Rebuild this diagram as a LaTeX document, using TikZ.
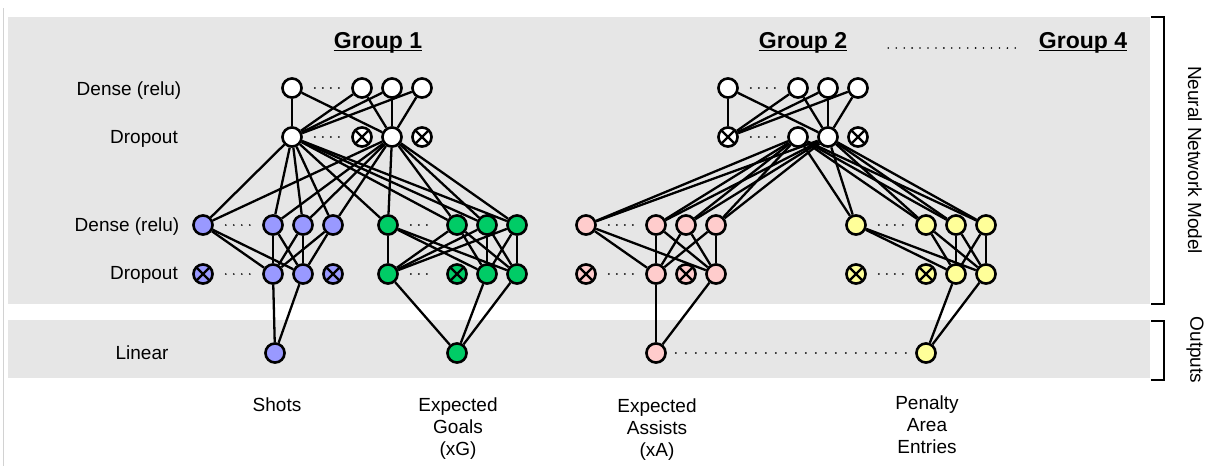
\documentclass[tikz,border=0pt]{standalone}
\usepackage{fontspec}
\setmainfont{Liberation Sans}
\usetikzlibrary{positioning,backgrounds}
\definecolor{panelgray}{HTML}{E6E6E6}
\definecolor{shotsblue}{HTML}{9999FF}
\definecolor{xggreen}{HTML}{00CC66}
\definecolor{xapink}{HTML}{FFCCCC}
\definecolor{paeyellow}{HTML}{FFFF99}
\tikzset{%
  neuron/.style={
    circle,
    draw,
    fill=white,
    line width=2.6pt,
    minimum size=19.1pt,
    inner sep=0pt
  },
  dropped/.style={
    neuron,
    path picture={
      \draw[line width=2.3pt] (path picture bounding box.south west) -- (path picture bounding box.north east)
        (path picture bounding box.north west) -- (path picture bounding box.south east);
    }
  },
  gapdots/.style={
    line width=1.8pt,
    line cap=round,
    dash pattern=on 0pt off 8pt
  },
}

\begin{document}
\begin{tikzpicture}[x=1pt,y=-1pt,node distance=30pt,on grid,font=\fontsize{19}{22}\selectfont]
        \tikzstyle{link}=[line width=2.3pt]
        \tikzstyle{title}=[anchor=base,inner sep=0pt,font=\bfseries\fontsize{23}{26}\selectfont]
        \tikzstyle{layer}=[anchor=base,inner sep=0pt]
        \tikzstyle{caption}=[anchor=north,inner sep=0pt,align=center]

        \useasboundingbox (0,0) rectangle (1207,466);
        \begin{scope}[on background layer]
          \draw[gray!35,line width=1pt] (3,8) -- (3,466);
          \fill[panelgray] (8,17) rectangle (1150,304);
          \fill[panelgray] (8,320) rectangle (1150,378);
        \end{scope}

        \node[title] (g1title) at (378,48) {Group 1};
        \node[title] (g2title) at (803,48) {Group 2};
        \node[title] (g4title) at (1083,48) {Group 4};

        \node[layer] (lbl1) at (129,95) {Dense (relu)};
        \node[layer] (lbl2) at (144,143.5) {Dropout};
        \node[layer] (lbl3) at (127,231) {Dense (relu)};
        \node[layer] (lbl4) at (144,279.5) {Dropout};
        \node[layer] (lbl5) at (142,359) {Linear};

        % group 1
        \node[neuron] (g1h1) at (292,88) {};
        \node[neuron,right=70pt of g1h1] (g1h2) {};
        \node[neuron,right=of g1h2] (g1h3) {};
        \node[neuron,right=of g1h3] (g1h4) {};
        \node[neuron,below=49pt of g1h1] (g1x1) {};
        \node[dropped,below=49pt of g1h2] (g1x2) {};
        \node[neuron,below=49pt of g1h3] (g1x3) {};
        \node[dropped,below=49pt of g1h4] (g1x4) {};

        % group 2
        \node[neuron] (g2h1) at (728,88) {};
        \node[neuron,right=70pt of g2h1] (g2h2) {};
        \node[neuron,right=of g2h2] (g2h3) {};
        \node[neuron,right=of g2h3] (g2h4) {};
        \node[dropped,below=49pt of g2h1] (g2x1) {};
        \node[neuron,below=49pt of g2h2] (g2x2) {};
        \node[neuron,below=49pt of g2h3] (g2x3) {};
        \node[dropped,below=49pt of g2h4] (g2x4) {};

        % shots
        \node[neuron,fill=shotsblue] (shotsh1) at (203,225) {};
        \node[neuron,fill=shotsblue,right=70pt of shotsh1] (shotsh2) {};
        \node[neuron,fill=shotsblue,right=of shotsh2] (shotsh3) {};
        \node[neuron,fill=shotsblue,right=of shotsh3] (shotsh4) {};
        \node[dropped,fill=shotsblue,below=49pt of shotsh1] (shotsx1) {};
        \node[neuron,fill=shotsblue,below=49pt of shotsh2] (shotsx2) {};
        \node[neuron,fill=shotsblue,below=49pt of shotsh3] (shotsx3) {};
        \node[dropped,fill=shotsblue,below=49pt of shotsh4] (shotsx4) {};
        \node[neuron,fill=shotsblue] (shotsout) at (275,353) {};

        % expected goals
        \node[neuron,fill=xggreen] (xgh1) at (388,225) {};
        \node[neuron,fill=xggreen,right=69pt of xgh1] (xgh2) {};
        \node[neuron,fill=xggreen,right=of xgh2] (xgh3) {};
        \node[neuron,fill=xggreen,right=of xgh3] (xgh4) {};
        \node[neuron,fill=xggreen,below=49pt of xgh1] (xgx1) {};
        \node[dropped,fill=xggreen,below=49pt of xgh2] (xgx2) {};
        \node[neuron,fill=xggreen,below=49pt of xgh3] (xgx3) {};
        \node[neuron,fill=xggreen,below=49pt of xgh4] (xgx4) {};
        \node[neuron,fill=xggreen,below=79pt of xgx2] (xgout) {};

        % expected assists
        \node[neuron,fill=xapink] (xah1) at (586,225) {};
        \node[neuron,fill=xapink,right=70pt of xah1] (xah2) {};
        \node[neuron,fill=xapink,right=of xah2] (xah3) {};
        \node[neuron,fill=xapink,right=of xah3] (xah4) {};
        \node[dropped,fill=xapink,below=49pt of xah1] (xax1) {};
        \node[neuron,fill=xapink,below=49pt of xah2] (xax2) {};
        \node[dropped,fill=xapink,below=49pt of xah3] (xax3) {};
        \node[neuron,fill=xapink,below=49pt of xah4] (xax4) {};
        \node[neuron,fill=xapink,below=79pt of xax2] (xaout) {};

        % penalty area entries
        \node[neuron,fill=paeyellow] (paeh1) at (856,225) {};
        \node[neuron,fill=paeyellow,right=70pt of paeh1] (paeh2) {};
        \node[neuron,fill=paeyellow,right=of paeh2] (paeh3) {};
        \node[neuron,fill=paeyellow,right=of paeh3] (paeh4) {};
        \node[dropped,fill=paeyellow,below=49pt of paeh1] (paex1) {};
        \node[dropped,fill=paeyellow,below=49pt of paeh2] (paex2) {};
        \node[neuron,fill=paeyellow,below=49pt of paeh3] (paex3) {};
        \node[neuron,fill=paeyellow,below=49pt of paeh4] (paex4) {};
        \node[neuron,fill=paeyellow,below=79pt of paex2] (paeout) {};

        \node[caption] (shotslab) at (277,398) {Shots};
        \node[caption] (xglab) at (458,398) {Expected\\Goals\\(xG)};
        \node[caption] (xalab) at (657,399) {Expected\\Assists\\(xA)};
        \node[caption] (paelab) at (927,396) {Penalty\\Area\\Entries};

        \node[rotate=-90] (nnlab) at (1195,160) {Neural Network Model};
        \node[rotate=-90] (outlab) at (1195,350) {Outputs};
        \draw[line width=2.2pt] (1151,17) -- (1164,17) -- (1164,304) -- (1151,304);
        \draw[line width=2.2pt] (1151,321) -- (1164,321) -- (1164,380) -- (1151,380);

        \foreach \t in {g1title,g2title,g4title}
          \draw[line width=1.8pt] ([yshift=-2.5pt]\t.base west) -- ([yshift=-2.5pt]\t.base east);
        \draw[gapdots,dash pattern=on 0pt off 7.94pt,shorten <=41pt,shorten >=20pt] (g2title.base east) -- (g4title.base west);
        \foreach \g in {g1,g2,shots,xg,xa,pae}
          \foreach \r in {h,x}
            \draw[gapdots,shorten <=12pt,shorten >=12pt] (\g\r1) -- (\g\r2);
        \draw[gapdots,dash pattern=on 0pt off 10pt,shorten <=9pt,shorten >=6pt] (xaout) -- (paeout);

        \begin{scope}[on background layer]
          \foreach \a in {1,...,4} \foreach \b in {1,3} \draw[link] (g1h\a) -- (g1x\b);
          \foreach \a in {1,...,4} \foreach \b in {1,3} \draw[link] (g2h\a) -- (g2x\b);
          \foreach \a in {1,3} \foreach \b in {1,...,4} \draw[link] (g1x\a) -- (shotsh\b) (g1x\a) -- (xgh\b);
          \foreach \a in {2,3} \foreach \b in {1,...,4} \draw[link] (g2x\a) -- (xah\b) (g2x\a) -- (paeh\b);
          \foreach \a in {1,...,4} \foreach \b in {2,3} \draw[link] (shotsh\a) -- (shotsx\b);
          \foreach \a in {1,...,4} \foreach \b in {1,3,4} \draw[link] (xgh\a) -- (xgx\b);
          \foreach \a in {1,...,4} \foreach \b in {2,4} \draw[link] (xah\a) -- (xax\b);
          \foreach \a in {1,...,4} \foreach \b in {3,4} \draw[link] (paeh\a) -- (paex\b);
          \foreach \b in {2,3} \draw[link] (shotsx\b) -- (shotsout);
          \foreach \b in {1,3,4} \draw[link] (xgx\b) -- (xgout);
          \foreach \b in {2,4} \draw[link] (xax\b) -- (xaout);
          \foreach \b in {3,4} \draw[link] (paex\b) -- (paeout);
        \end{scope}
    \end{tikzpicture}
\end{document}
